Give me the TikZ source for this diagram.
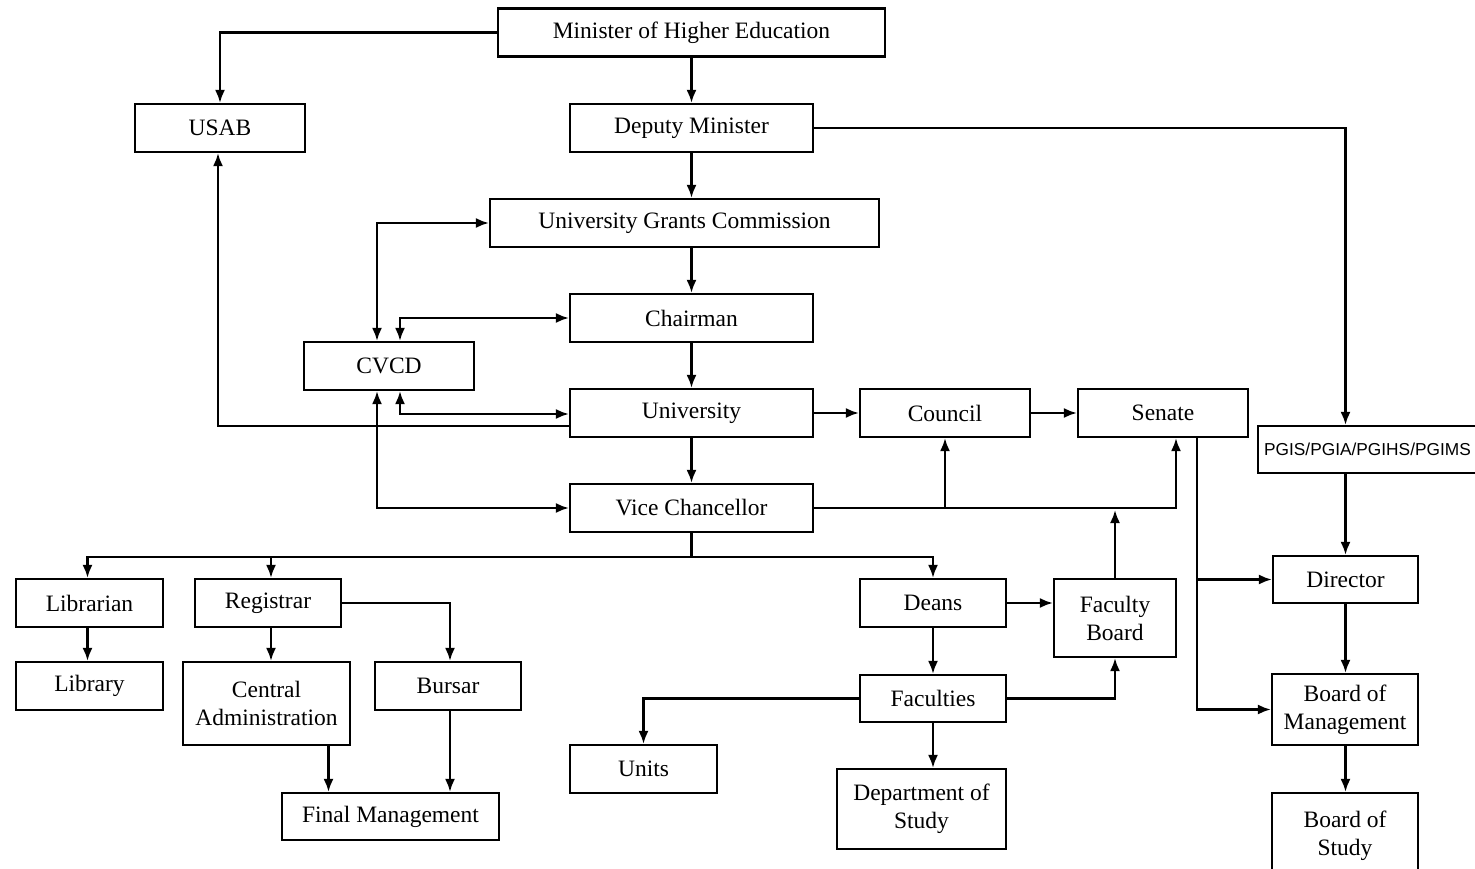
\documentclass[tikz,border=0pt]{standalone}
\usepackage{fontspec}
\setmainfont{Liberation Serif}
\newfontfamily\pgisfont{Liberation Sans}
\usetikzlibrary{arrows.meta}
\begin{document}
\begin{tikzpicture}[x=1pt,y=-1pt,
  box/.style={draw, line width=2.2pt, inner sep=0pt, minimum height=48pt, align=center,
    font=\fontsize{23.5}{28}\selectfont},
  conn/.style={line width=2.2pt},
  arr/.style={conn, -{Latex[length=13pt,width=10pt]}},
  arrb/.style={conn, {Latex[length=13pt,width=10pt]}-{Latex[length=13pt,width=10pt]}}]
\useasboundingbox (0,0) rectangle (1475,869);
\fill[white] (0,0) rectangle (1475,869);
% nodes
\node[box, minimum width=387pt] (min) at (691.5,32.5) {Minister of Higher Education};
\node[box, minimum width=170pt] (usab) at (220,128) {USAB};
\node[box, minimum width=243pt] (dep) at (691.5,128) {Deputy Minister};
\node[box, minimum width=389pt] (ugc) at (684.5,223) {University Grants Commission};
\node[box, minimum width=243pt] (chair) at (691.5,318) {Chairman};
\node[box, minimum width=170pt] (cvcd) at (389,366) {CVCD};
\node[box, minimum width=243pt] (univ) at (691.5,413) {University};
\node[box, minimum width=170pt] (coun) at (945,413) {Council};
\node[box, minimum width=170pt] (sen) at (1163,413) {Senate};
\node[box, minimum width=243pt, minimum height=47pt, anchor=west, inner xsep=6pt,
  text width=231pt, align=left, font=\pgisfont\fontsize{17.3}{20}\selectfont] (pgis) at (1257,449.5) {PGIS/PGIA/PGIHS/PGIMS};
\node[box, minimum width=243pt] (vc) at (691.5,508) {Vice Chancellor};
\node[box, minimum width=147pt] (libn) at (89.5,603) {Librarian};
\node[box, minimum width=147pt] (libr) at (89.5,686) {Library};
\node[box, minimum width=146pt] (reg) at (268,603) {Registrar};
\node[box, minimum width=167pt, minimum height=83pt] (ca) at (266.5,703.5) {Central\\Administration};
\node[box, minimum width=146pt] (bur) at (448,686) {Bursar};
\node[box, minimum width=217pt, minimum height=47pt] (fm) at (390.5,816.5) {Final Management};
\node[box, minimum width=146pt] (deans) at (933,603) {Deans};
\node[box, minimum width=122pt, minimum height=78pt] (fb) at (1115,618) {Faculty\\Board};
\node[box, minimum width=146pt, minimum height=47pt] (fac) at (933,698.5) {Faculties};
\node[box, minimum width=147pt] (units) at (643.5,769) {Units};
\node[box, minimum width=169pt, minimum height=80pt] (dept) at (921.5,809) {Department of\\Study};
\node[box, minimum width=145pt, minimum height=47pt] (dir) at (1345.5,579.5) {Director};
\node[box, minimum width=146pt, minimum height=71pt] (bom) at (1345,709.5) {Board of\\Management};
\node[box, minimum width=146pt, minimum height=80pt, text depth=0pt] (bos) at (1345,833) {Board of\\Study};
% connectors
\draw[arr] (min.west) -| (usab.north);
\draw[arr] (min.south) -- (dep.north);
\draw[arr] (dep.east) -| (pgis.north -| dir.north);
\draw[arr] (dep.south) -- (dep.south |- ugc.north);
\draw[arr] (dep.south |- ugc.south) -- (chair.north);
\coordinate (cvtl) at ([xshift=-12pt]cvcd.north);
\coordinate (cvtr) at ([xshift=11pt]cvcd.north);
\coordinate (cvbl) at ([xshift=-12pt]cvcd.south);
\coordinate (cvbr) at ([xshift=11pt]cvcd.south);
\draw[arrb] (cvtl) |- (ugc.west);
\draw[arrb] (cvtr) |- (chair.west);
\draw[arr] (chair.south) -- (univ.north);
\draw[arrb] (cvbr) |- ([yshift=-1pt]univ.west);
\draw[arr] ([yshift=-13pt]univ.west) -| ([xshift=-2pt]usab.south);
\draw[arrb] (cvbl) |- (vc.west);
\draw[arr] (univ.south) -- (vc.north);
\draw[arr] (univ.east) -- (coun.west);
\draw[arr] (coun.east) -- (sen.west);
\draw[arr] (vc.east) -| (coun.south);
\draw[arr] (vc.east) -| ([xshift=13pt]sen.south);
\draw[arr] (fb.north) -- ([yshift=-2pt]fb.north |- vc.east);
% VC branches
\coordinate (br) at (691.5,557);
\draw[conn] (vc.south) -- (br);
\draw[arr] (br) -| ([xshift=-2pt]libn.north);
\draw[arr] (br) -| ([xshift=3pt]reg.north);
\draw[arr] (br) -| (deans.north);
\draw[arr] ([xshift=-2pt]libn.south) -- ([xshift=-2pt]libr.north);
\draw[arr] ([xshift=3pt]reg.south) -- ([xshift=3pt]reg.south |- ca.north);
\draw[arr] (reg.east) -| ([xshift=2pt]bur.north);
\coordinate (ca1) at ([xshift=62pt]ca.south);
\draw[arr] (ca1) -- (ca1 |- fm.north);
\coordinate (bu1) at ([xshift=2pt]bur.south);
\draw[arr] (bu1) -- (bu1 |- fm.north);
\draw[arr] (deans.east) -- (deans.east -| fb.west);
\draw[arr] (deans.south) -- (fac.north);
\draw[arr] (fac.west) -| (units.north);
\draw[arr] (fac.east) -| (fb.south);
\draw[arr] (fac.south) -- (fac.south |- dept.north);
% Senate to right branch
\coordinate (s1) at ([xshift=34pt]sen.south);
\draw[arr] (s1) |- (bom.west);
\draw[arr] (s1 |- dir.west) -- (dir.west);
\draw[arr] (pgis.south -| dir.north) -- (dir.north);
\draw[arr] (dir.south) -- (dir.south |- bom.north);
\draw[arr] (dir.south |- bom.south) -- (dir.south |- bos.north);
\end{tikzpicture}
\end{document}
